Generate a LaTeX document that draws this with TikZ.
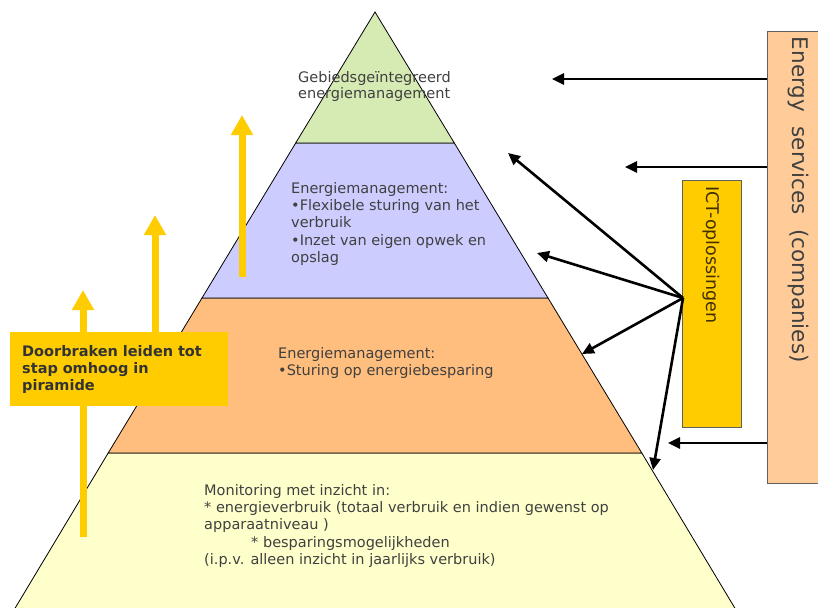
\documentclass[tikz,border=0pt]{standalone}
\usepackage{fontspec}
\setmainfont{DejaVu Sans}
\usepackage{tikz}
\usetikzlibrary{arrows.meta}
\definecolor{pyrGreen}{RGB}{214,234,180}
\definecolor{pyrBlue}{RGB}{204,204,255}
\definecolor{pyrOrange}{RGB}{255,190,125}
\definecolor{pyrYellow}{RGB}{255,255,204}
\definecolor{svcPeach}{RGB}{255,204,153}
\definecolor{ictGold}{RGB}{255,204,0}
\definecolor{txtgray}{RGB}{64,64,64}
\definecolor{boxgray}{RGB}{96,96,96}

\begin{document}
\begin{tikzpicture}[x=1pt,y=-1pt,
    layer/.style={draw=black, line width=0.8pt},
    layertext/.style={anchor=north west, inner sep=0pt, align=left, text=txtgray,
        font=\fontsize{14.5}{17.3}\selectfont},
    boostarrow/.style={draw=ictGold, line width=7pt, -{Triangle[length=20pt,width=21pt]}},
    svcarrow/.style={draw=black, line width=2.6pt, -{Triangle[length=12pt,width=11pt]}}]

    \useasboundingbox (0,0) rectangle (818,607);
    \clip (0,0) rectangle (818,607);

    % pyramid layers
    \fill[pyrYellow, layer] (108.2,453) -- (641.8,453) -- (742,620) -- (8,620) -- cycle;
    \fill[pyrOrange, layer] (202,298) -- (548,298) -- (641.8,453) -- (108.2,453) -- cycle;
    \fill[pyrBlue, layer] (295.7,143) -- (454.3,143) -- (548,298) -- (202,298) -- cycle;
    \fill[pyrGreen, layer] (375,12) -- (454.3,143) -- (295.7,143) -- cycle;

    % layer texts
    \node[layertext, font=\fontsize{14.5}{16}\selectfont] (top) at (298,71)
        {Gebiedsgeïntegreerd\\energiemanagement};
    \node[layertext] (flex) at (291,182)
        {Energiemanagement:\\•Flexibele sturing van het\\verbruik\\•Inzet van eigen opwek en\\opslag};
    \node[layertext] (save) at (278,347)
        {Energiemanagement:\\•Sturing op energiebesparing};
    \node[layertext] (monitor) at (204,484)
        {Monitoring met inzicht in:\\* energieverbruik (totaal verbruik en indien gewenst op\\apparaatniveau )\\\hspace*{47pt}* besparingsmogelijkheden\\(i.p.v. alleen inzicht in jaarlijks verbruik)};

    % step-up arrows
    \foreach \x/\ybot/\ytop in {242/277/115, 155/406/215, 83/537/290}
        \draw[boostarrow] (\x,\ybot) -- (\x,\ytop);

    % breakthrough box
    \node[fill=ictGold, anchor=north west, inner xsep=12pt, minimum height=74pt,
          text width=194pt, align=left, text={rgb,255:red,51;green,51;blue,51},
          font=\bfseries\fontsize{14.5}{17}\selectfont] (breakbox) at (10,332)
        {Doorbraken leiden tot\\stap omhoog in\\piramide};

    % side boxes
    \node[fill=svcPeach, draw=boxgray, line width=0.8pt, rotate=-90,
          minimum width=452pt, minimum height=62pt, inner xsep=6pt,
          text width=440pt, align=left, text=txtgray,
          font=\fontsize{21.5}{24}\selectfont] (es) at (798,257)
        {Energy\ \ services\ \ (companies)};
    \node[fill=ictGold, draw=boxgray, line width=0.8pt, rotate=-90,
          minimum width=247pt, minimum height=59pt, inner xsep=6pt,
          text width=235pt, align=left, text={rgb,255:red,64;green,48;blue,0},
          font=\fontsize{17.5}{20}\selectfont] (ict) at (711.5,303.5)
        {ICT-oplossingen};

    % arrow end points
    \coordinate (s1) at (552,79);
    \coordinate (s2) at (625,167);
    \coordinate (s3) at (668,443);
    \coordinate (hub) at (683,298);
    \coordinate (i1) at (508,153);
    \coordinate (i2) at (537,253);
    \coordinate (i3) at (582,354);
    \coordinate (i4) at (653,470);

    % service arrows
    \foreach \t in {s1,s2,s3}
        \draw[svcarrow] (es.south |- \t) -- (\t);

    % ICT arrows
    \foreach \t in {i1,i2,i3,i4}
        \draw[svcarrow] (hub) -- (\t);

\end{tikzpicture}
\end{document}
